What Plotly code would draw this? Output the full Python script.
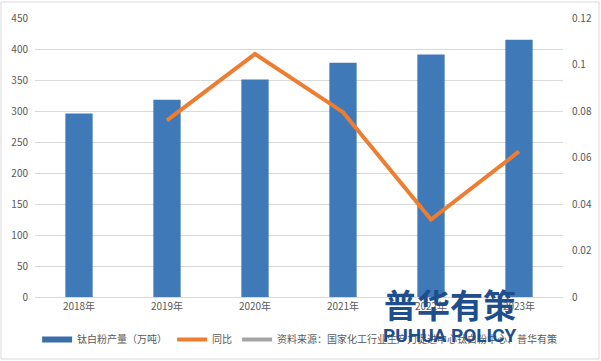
import plotly.graph_objects as go

years = ["2018年", "2019年", "2020年", "2021年", "2022年", "2023年"]
output = [296, 318, 351, 378, 391, 415]
yoy = [None, 0.076, 0.1045, 0.0795, 0.0333, 0.0626]
right_ticks = [0, 0.02, 0.04, 0.06, 0.08, 0.1, 0.12]
right_labels = ["0", "0.02", "0.04", "0.06", "0.08", "0.1", "0.12"]
bar_name = "钛白粉产量（万吨）"
line_name = "同比"
source_text = "资料来源：国家化工行业生产力促进中心钛白粉中心、普华有策"

FONT = "Noto Sans CJK SC, Microsoft YaHei, sans-serif"

fig = go.Figure()
fig.add_trace(go.Bar(
    x=years, y=output, name=bar_name, showlegend=False,
    marker=dict(color="#4079B7", line=dict(width=0)),
    width=0.31,
))
fig.add_trace(go.Scatter(
    x=years, y=yoy, name=line_name, yaxis="y2", mode="lines",
    line=dict(color="#ED7D31", width=4), connectgaps=False, showlegend=False,
))
# legend entries
fig.add_trace(go.Scatter(
    x=[None], y=[None], name=bar_name, mode="lines",
    line=dict(color="#3A6EA8", width=6),
))
fig.add_trace(go.Scatter(
    x=[None], y=[None], name=line_name, mode="lines", yaxis="y2",
    line=dict(color="#ED7D31", width=4),
))
fig.add_trace(go.Scatter(
    x=[None], y=[None], name=source_text, mode="lines",
    line=dict(color="#A5A5A5", width=4), yaxis="y2",
))

fig.update_layout(
    width=601, height=361,
    margin=dict(l=35, r=38, t=18, b=64, autoexpand=False),
    paper_bgcolor="white", plot_bgcolor="white",
    font=dict(family=FONT, size=10, color="#595959"),
    xaxis=dict(showgrid=False, showline=True, linecolor="#D9D9D9", linewidth=1,
               ticks="", tickfont=dict(size=10, color="#595959")),
    yaxis=dict(range=[0, 450], dtick=50, showgrid=True, gridcolor="#D9D9D9",
               gridwidth=1, zeroline=False, showline=False, ticks="",
               tickfont=dict(size=10, color="#595959"), ticklabelstandoff=6),
    yaxis2=dict(range=[0, 0.12], overlaying="y", side="right",
                tickvals=right_ticks, ticktext=right_labels, showgrid=False,
                zeroline=False, showline=False, ticks="",
                tickfont=dict(size=10, color="#595959"), ticklabelstandoff=8),
    legend=dict(orientation="h", x=0.004, xanchor="left", yref="container",
                y=(361 - 325) / 361, yanchor="top",
                font=dict(size=10, color="#595959"),
                tracegroupgap=0, bgcolor="rgba(0,0,0,0)", itemwidth=30),
    shapes=[dict(type="rect", xref="paper", yref="paper",
                 x0=-34/528, x1=1 + 36/528, y0=-62/279, y1=1 + 16/279,
                 line=dict(color="#D9D9D9", width=1))],
    annotations=[
        dict(text="<b>普华有策</b>", xref="paper", yref="paper", x=(450-35)/528,
             y=-(304-297)/279, showarrow=False, xanchor="center", yanchor="middle",
             font=dict(family=FONT, size=33, color="#1F4E8C")),
        dict(text="<b>PUHUA POLICY</b>", xref="paper", yref="paper", x=(450-35)/528,
             y=-(336-297)/279, showarrow=False, xanchor="center", yanchor="middle",
             font=dict(family="Roboto, sans-serif", size=19, color="#1F4E8C")),
    ],
)

fig.write_html("out.html", config={"displayModeBar": False},
               post_script="document.body.style.margin='0';document.body.style.overflow='hidden';")
